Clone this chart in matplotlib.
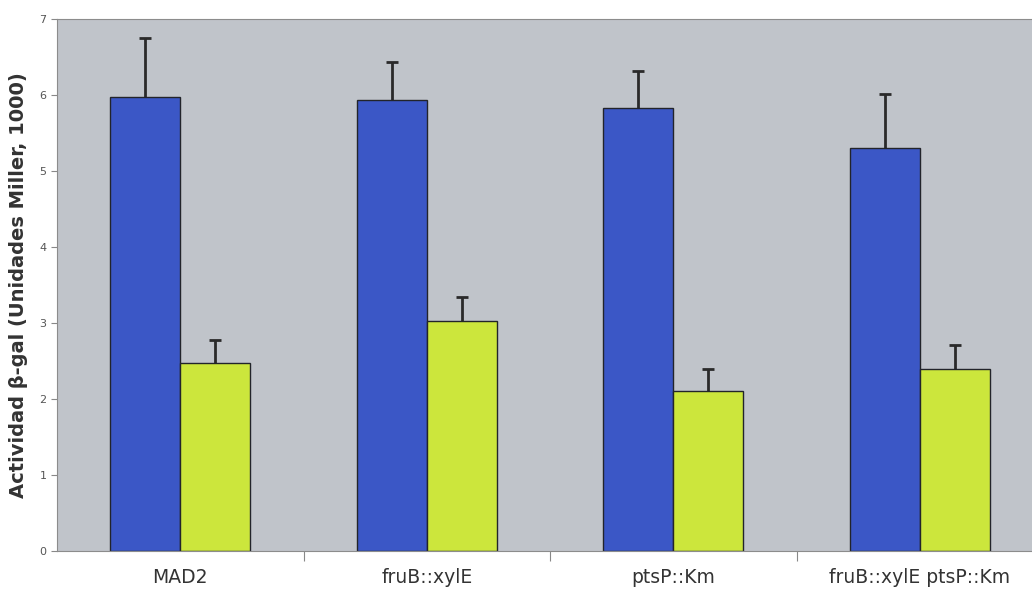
import numpy as np
import matplotlib.pyplot as plt

strains = ["MAD2", "fruB::xylE", "ptsP::Km", "fruB::xylE ptsP::Km"]
blue_vals = [5.97, 5.93, 5.83, 5.30]
blue_err = [0.78, 0.50, 0.49, 0.71]
green_vals = [2.48, 3.03, 2.11, 2.39]
green_err = [0.30, 0.31, 0.28, 0.32]

fig = plt.figure(figsize=(10.32, 5.89), dpi=100)
# axes run past the right edge of the figure
ax = fig.add_axes([57 / 1032, 38 / 589, 986 / 1032, 532 / 589])
ax.set_facecolor("#c0c4ca")

x = np.arange(len(strains)) + 0.5
w = 0.284
for pos, vals, err, col in [(x - w / 2, blue_vals, blue_err, "#3b57c6"),
                            (x + w / 2, green_vals, green_err, "#cce63c")]:
    ax.bar(pos, vals, w, color=col, edgecolor="#22242a", linewidth=1.0, zorder=2)
    _, caps, _ = ax.errorbar(pos, vals, yerr=[np.zeros(len(vals)), err], fmt="none",
                             ecolor="#2a2a2a", elinewidth=2, capsize=4.5, capthick=2, zorder=1)
    caps[0].set_visible(False)  # only the upper cap

ax.set_xlim(0, 4)
ax.set_ylim(0, 7)
ax.set_yticks(range(8))
ax.tick_params(axis="y", labelsize=8, length=4, color="#888888", labelcolor="#555555")
ax.set_xticks([1, 2, 3, 4])
ax.set_xticklabels([])
ax.set_xticks(x, minor=True)
ax.set_xticklabels(strains, minor=True, fontsize=13.5, color="#333333")
ax.tick_params(axis="x", which="major", length=7, color="#888888")
ax.tick_params(axis="x", which="minor", length=0, pad=12)

for side in ["left", "bottom", "top"]:
    ax.spines[side].set_color("#8c8c8c")
ax.spines["right"].set_visible(False)

ax.set_ylabel("Actividad β-gal (Unidades Miller, 1000)", fontsize=14, fontweight="bold",
              color="#333333", labelpad=8)

fig.savefig("out.png", dpi=100)
